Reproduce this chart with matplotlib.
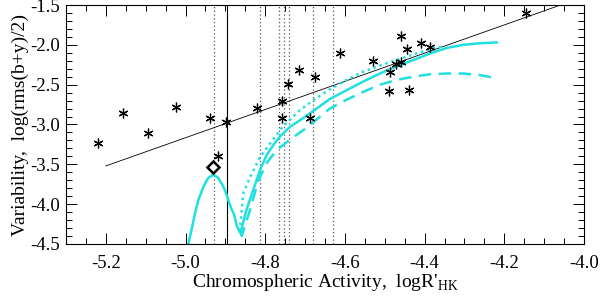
import numpy as np
import matplotlib
matplotlib.use('Agg')
import matplotlib.pyplot as plt
from matplotlib.ticker import MultipleLocator

plt.rcParams['font.family'] = ['Liberation Serif', 'DejaVu Serif']
plt.rcParams['mathtext.fontset'] = 'custom'
plt.rcParams['mathtext.rm'] = 'Liberation Serif'

# stars: chromospheric activity vs photometric variability
star_x = [-5.22, -5.157, -5.094, -5.024, -4.939, -4.899, -4.918, -4.821, -4.758, -4.758,
          -4.743, -4.715, -4.675, -4.688, -4.612, -4.530, -4.487, -4.472, -4.459, -4.459,
          -4.444, -4.489, -4.439, -4.409, -4.387, -4.146]
star_y = [-3.23, -2.855, -3.106, -2.78, -2.918, -2.968, -3.39, -2.79, -2.70, -2.918,
          -2.49, -2.316, -2.40, -2.918, -2.10, -2.20, -2.34, -2.24, -2.215, -1.889,
          -2.05, -2.58, -2.567, -1.98, -2.03, -1.60]

# the Sun (diamond)
sun_x = -4.930
sun_y = -3.53

# linear fit
fit_x = [-5.20, -4.00]
fit_y = [-3.52, -1.396]

# vertical markers
solid_vline = -4.896
dotted_vlines = [-4.929, -4.813, -4.765, -4.753, -4.740, -4.680, -4.630]

# model curves (cyan)
solid_cx = [-4.993, -4.985, -4.976, -4.968, -4.955, -4.943, -4.930, -4.918, -4.905,
            -4.897, -4.890, -4.884, -4.878, -4.872, -4.865, -4.862, -4.847, -4.830,
            -4.813, -4.796, -4.780, -4.763, -4.738, -4.705, -4.671, -4.638, -4.596,
            -4.554, -4.512, -4.470, -4.428, -4.387, -4.345, -4.303, -4.261, -4.219]
solid_cy = [-4.50, -4.32, -4.11, -3.95, -3.78, -3.67, -3.63, -3.67, -3.78,
            -3.88, -3.99, -4.07, -4.13, -4.26, -4.34, -4.36, -4.07, -3.82,
            -3.57, -3.38, -3.26, -3.15, -3.03, -2.92, -2.80, -2.68, -2.57,
            -2.46, -2.36, -2.27, -2.19, -2.11, -2.04, -2.00, -1.98, -1.97]
dotted_cx = [-4.864, -4.855, -4.838, -4.813, -4.788, -4.755, -4.713, -4.675, -4.638,
             -4.596, -4.554, -4.512, -4.470, -4.428, -4.387, -4.355]
dotted_cy = [-4.34, -3.86, -3.66, -3.41, -3.24, -3.02, -2.82, -2.68, -2.56,
             -2.44, -2.337, -2.26, -2.19, -2.12, -2.056, -2.02]
dashed_cx = [-4.862, -4.859, -4.838, -4.817, -4.796, -4.771, -4.738, -4.696, -4.638,
             -4.596, -4.554, -4.512, -4.470, -4.428, -4.387, -4.345, -4.303, -4.261, -4.219]
dashed_cy = [-4.36, -4.40, -4.07, -3.70, -3.48, -3.32, -3.19, -3.04, -2.80,
             -2.69, -2.59, -2.50, -2.44, -2.40, -2.37, -2.36, -2.36, -2.38, -2.42]

cyan = '#1fe0e0'

fig = plt.figure(figsize=(6.0, 2.96), dpi=100)
ax = fig.add_axes([66 / 600, 1 - 244 / 296, 518 / 600, 239 / 296])

for xv in dotted_vlines:
    ax.axvline(xv, color='#555555', linestyle=(0, (1, 2)), linewidth=0.9)
ax.axvline(solid_vline, color='black', linewidth=0.8)

ax.plot(fit_x, fit_y, color='black', linewidth=0.6)

ax.plot(solid_cx, solid_cy, color=cyan, linewidth=1.8)
ax.plot(dotted_cx, dotted_cy, color=cyan, linewidth=1.8, linestyle=(0, (1, 1.5)))
ax.plot(dashed_cx, dashed_cy, color=cyan, linewidth=1.8, linestyle=(0, (5, 3)))

ax.plot(star_x, star_y, linestyle='none', marker=(6, 2, 0), markersize=7,
        markeredgecolor='black', markeredgewidth=0.9, color='black')
ax.plot([sun_x], [sun_y], linestyle='none', marker='D', markersize=6.5,
        markerfacecolor='white', markeredgecolor='black', markeredgewidth=1.8)

ax.set_xlim(-5.3, -4.0)
ax.set_ylim(-4.5, -1.5)
ax.xaxis.set_major_locator(MultipleLocator(0.2))
ax.xaxis.set_minor_locator(MultipleLocator(0.05))
ax.yaxis.set_major_locator(MultipleLocator(0.5))
ax.yaxis.set_minor_locator(MultipleLocator(0.1))
ax.tick_params(which='both', direction='in', top=True, right=True, labelsize=13.5,
               width=0.7, colors='black')
ax.tick_params(axis='x', which='major', pad=8)
ax.tick_params(axis='y', which='major', pad=4)
ax.tick_params(which='major', length=8)
ax.tick_params(which='minor', length=4)
ax.xaxis.set_major_formatter(plt.FuncFormatter(lambda v, p: '%.1f' % v))
ax.yaxis.set_major_formatter(plt.FuncFormatter(lambda v, p: '%.1f' % v))
for s in ax.spines.values():
    s.set_linewidth(0.8)

ax.set_xlabel("Chromospheric Activity,  logR'$_{\\mathrm{HK}}$", fontsize=14, labelpad=0)
ax.set_ylabel("Variability,  log(rms(b+y)/2)", fontsize=14, labelpad=1)

fig.savefig('out.png', dpi=100)
